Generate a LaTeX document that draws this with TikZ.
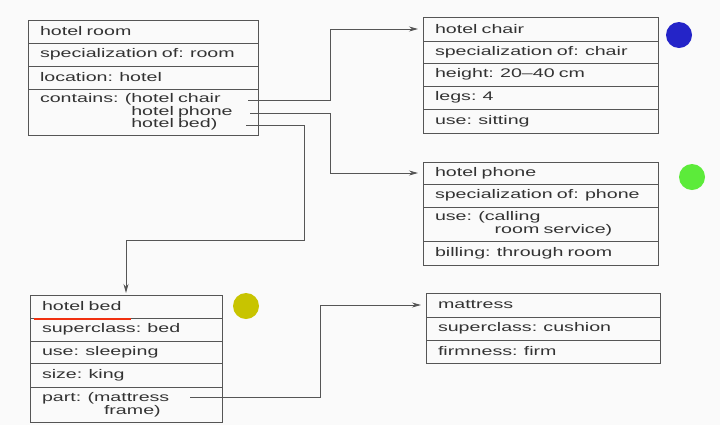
\documentclass[tikz,border=0pt]{standalone}
\usepackage{fontspec}
\setmainfont[FakeStretch=1.57]{Liberation Sans}
\usetikzlibrary{positioning,arrows.meta}
\definecolor{paper}{HTML}{FAFAFA}
\definecolor{ink}{HTML}{333333}
\definecolor{rule}{HTML}{555555}
\definecolor{chairdot}{HTML}{2424C8}
\definecolor{phonedot}{HTML}{5CEB3A}
\definecolor{beddot}{HTML}{C8C400}
\definecolor{underlinered}{HTML}{F03010}
\tikzset{
  slot/.style={draw=rule, line width=0.8bp, anchor=north west, outer sep=0pt,
    inner xsep=12bp, inner ysep=0pt,
    align=left, text=ink, font=\fontsize{12.5bp}{11.5bp}\selectfont},
  roomslot/.style={slot, text width=206bp},
  wideslot/.style={slot, text width=211bp},
  bedslot/.style={slot, text width=168bp},
  mattslot/.style={slot, text width=210bp},
  link/.style={draw=rule, line width=0.8bp, -{Stealth[length=9bp,width=5bp]}, shorten >=5bp},
}
\begin{document}
\begin{tikzpicture}[x=1bp,y=-1bp]
\fill[paper] (0,0) rectangle (720,425);
\useasboundingbox (0,0) rectangle (720,425);
% hotel room
\node[roomslot, minimum height=23bp] (room1) at (28,20) {hotel room};
\node[roomslot, minimum height=23bp, below=0pt of room1] (room2) {specialization of: room};
\node[roomslot, minimum height=23bp, below=0pt of room2] (room3) {location: hotel};
\node[roomslot, minimum height=46bp, below=0pt of room3] (room4) {contains: (hotel chair\\\phantom{contains: (}hotel phone\\\phantom{contains: (}hotel bed)};
% hotel chair
\node[wideslot, minimum height=24bp] (chair1) at (423,17) {hotel chair};
\node[wideslot, minimum height=22bp, below=0pt of chair1] (chair2) {specialization of: chair};
\node[wideslot, minimum height=23bp, below=0pt of chair2] (chair3) {height: 20--40 cm};
\node[wideslot, minimum height=23bp, below=0pt of chair3] (chair4) {legs: 4};
\node[wideslot, minimum height=24bp, below=0pt of chair4] (chair5) {use: sitting};
% hotel phone
\node[wideslot, minimum height=22bp] (phone1) at (423,162) {hotel phone};
\node[wideslot, minimum height=23bp, below=0pt of phone1] (phone2) {specialization of: phone};
\node[wideslot, minimum height=34bp, below=0pt of phone2] (phone3) {use: (calling\\\phantom{use: (c}room service)};
\node[wideslot, minimum height=24bp, below=0pt of phone3] (phone4) {billing: through room};
% hotel bed
\node[bedslot, minimum height=23bp] (bed1) at (30,295) {hotel bed};
\node[bedslot, minimum height=23bp, below=0pt of bed1] (bed2) {superclass: bed};
\node[bedslot, minimum height=22bp, below=0pt of bed2] (bed3) {use: sleeping};
\node[bedslot, minimum height=24bp, below=0pt of bed3] (bed4) {size: king};
\node[bedslot, minimum height=35bp, below=0pt of bed4] (bed5) {part: (mattress\\\hspace*{62bp}frame)};
% mattress
\node[mattslot, minimum height=24bp] (matt1) at (426,293) {mattress};
\node[mattslot, minimum height=23bp, below=0pt of matt1] (matt2) {superclass: cushion};
\node[mattslot, minimum height=23bp, below=0pt of matt2] (matt3) {firmness: firm};
% connectors
\coordinate (cchair) at (248,100);
\coordinate (cphone) at (250,113);
\coordinate (cbed) at (246,125);
\coordinate (cpart) at (190,397);
\draw[link] (cchair) -- ++(82,0) |- (chair1.west);
\draw[link] (cphone) -- ++(80,0) |- (phone1.west);
\draw[link, shorten >=2bp] (cbed) -| (304,240) -| (bed1.north);
\draw[link] (cpart) -- ++(130,0) |- (matt1.west);
% marks
\draw[underlinered, line width=2bp] (34,319) -- (131,319);
\fill[chairdot] (679,35) circle (13bp);
\fill[phonedot] (692,177) circle (13bp);
\fill[beddot] (246,306) circle (13bp);
\end{tikzpicture}
\end{document}
